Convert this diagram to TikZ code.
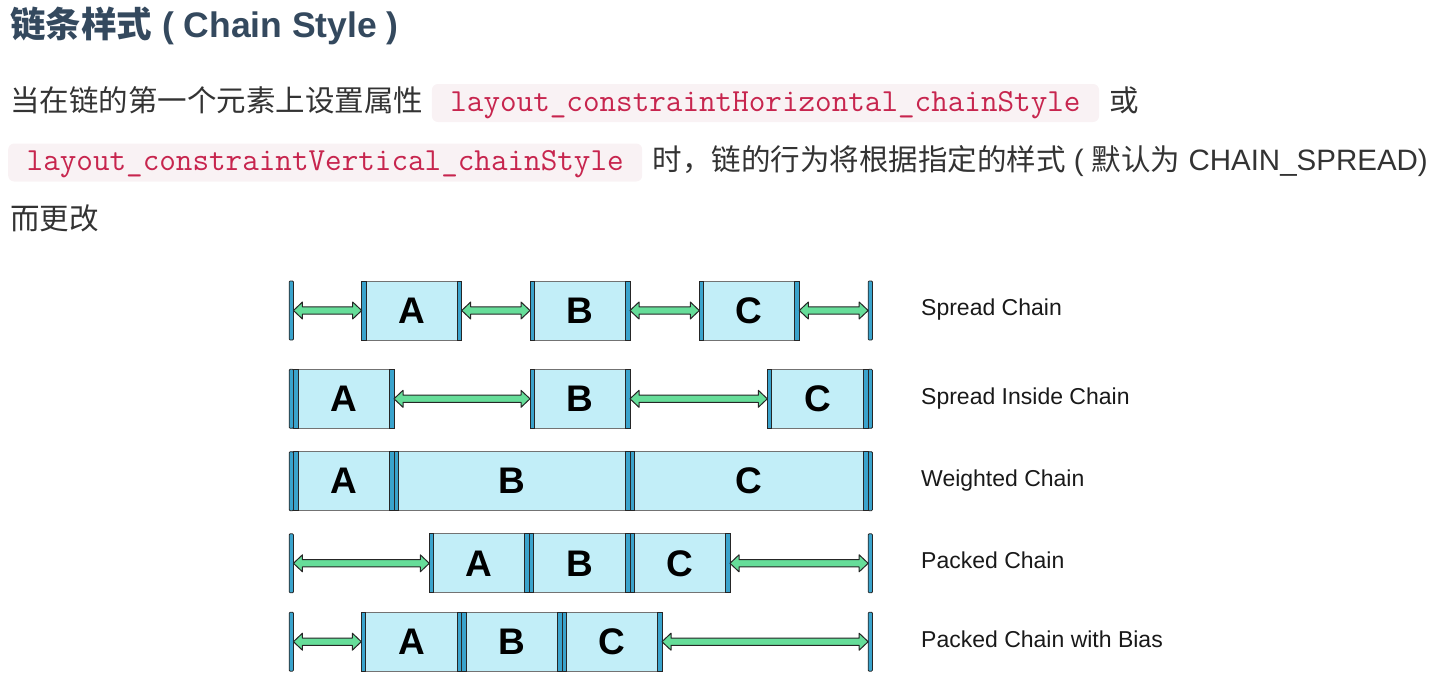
\documentclass[tikz,border=0pt]{standalone}
\usepackage{fontspec}
\setmainfont{Liberation Sans}
\newfontfamily\cjk{Noto Sans CJK SC}
\usetikzlibrary{calc,positioning}

\definecolor{titlecol}{HTML}{34495E}
\definecolor{textcol}{HTML}{333333}
\definecolor{codered}{HTML}{C7254E}
\definecolor{codebg}{HTML}{F9F2F4}
\definecolor{boxfill}{HTML}{C2EEF8}
\definecolor{barfill}{HTML}{3AA3CC}
\definecolor{gapfill}{HTML}{66DD99}

\tikzset{
	box/.style={draw=black!55, line width=0.8pt, fill=boxfill, minimum height=59, inner sep=0, outer sep=0, font=\fontsize{37}{40}\selectfont\bfseries},
	bar/.style={draw=black!85, line width=0.8pt, fill=barfill},
	wall/.style={bar, rounded corners=1pt, minimum width=4.3, minimum height=59, inner sep=0, outer sep=0},
	gap/.style={draw=black!85, line width=1pt, fill=gapfill, line join=round},
	chainlabel/.style={anchor=base west, inner sep=0, font=\fontsize{23}{26}\selectfont, text=black!90},
	code/.style={fill=codebg, text=codered, rounded corners=6pt, inner xsep=18.5, inner ysep=8, text height=19, text depth=3, font=\fontsize{32.2}{34}\ttfamily},
	body/.style={inner sep=0, text=textcol, font=\fontsize{29.5}{34}\selectfont},
}

% box with a bar on each side: (name)(left,right,y){label}
\def\chainbox(#1)(#2,#3,#4)#5{%
	\node[box, minimum width=#3-#2, anchor=west] (#1) at (#2,#4) {#5};
	\draw[bar] (#1.north west) rectangle ([xshift=4.5pt]#1.south west);
	\draw[bar] ([xshift=-4.5pt]#1.north east) rectangle (#1.south east);}
% double arrow between two nodes
\def\gap(#1)(#2){\filldraw[gap] let \p1=(#1.east), \p2=(#2.west) in
	(\x1,\y1) -- (\x1+9pt,\y1+8.5pt) -- (\x1+9pt,\y1+3.6pt) -- (\x2-9pt,\y1+3.6pt) -- (\x2-9pt,\y1+8.5pt) -- (\x2,\y1)
	-- (\x2-9pt,\y1-8.5pt) -- (\x2-9pt,\y1-3.6pt) -- (\x1+9pt,\y1-3.6pt) -- (\x1+9pt,\y1-8.5pt) -- cycle;}

\begin{document}
\begin{tikzpicture}[x=1pt, y=-1pt]
		%%%%% START %%%%%
		\useasboundingbox (0,0) rectangle (1436,694);
		
		\node[body, anchor=base west, text=titlecol, font=\fontsize{35.5}{40}\selectfont\bfseries] (title) at (10,37) {{\cjk 链条样式} ( Chain Style )};
		
		\node[body, anchor=base west] (set) at (10,111) {\cjk 当在链的第一个元素上设置属性};
		\node[code, anchor=base west] (hcode) at (431.7,111) {layout\_constraintHorizontal\_chainStyle};
		\node[body, anchor=base west] (or) at ([xshift=10pt]hcode.base east) {\cjk 或};
		\node[code, anchor=base west] (vcode) at (8,170.5) {layout\_constraintVertical\_chainStyle};
		\node[body, anchor=base west] (when) at ([xshift=10pt]vcode.base east) {{\cjk 时，链的行为将根据指定的样式} ( {\cjk 默认为} CHAIN\_SPREAD)};
		\node[body, anchor=base west] (change) at (10,229) {\cjk 而更改};
		
		% spread
		\node[wall] (s-l) at (291.3,310.5) {};
		\node[wall] (s-r) at (870.3,310.5) {};
		\chainbox(s-a)(361.7,461.7,310.5){A}
		\chainbox(s-b)(530,630,310.5){B}
		\chainbox(s-c)(699.3,799.3,310.5){C}
		\gap(s-l)(s-a)
		\gap(s-a)(s-b)
		\gap(s-b)(s-c)
		\gap(s-c)(s-r)
		\node[chainlabel] (s-t) at (921,315.8) {Spread Chain};
		
		% spread inside
		\node[wall] (i-l) at (291.3,398.8) {};
		\node[wall] (i-r) at (870.3,398.8) {};
		\chainbox(i-a)(293.5,394,398.8){A}
		\chainbox(i-b)(530,630,398.8){B}
		\chainbox(i-c)(767.3,868,398.8){C}
		\gap(i-a)(i-b)
		\gap(i-b)(i-c)
		\node[chainlabel] (i-t) at (921,404.1) {Spread Inside Chain};
		
		% weighted
		\node[wall] (w-l) at (291.3,481.2) {};
		\node[wall] (w-r) at (870.3,481.2) {};
		\chainbox(w-a)(293.5,394,481.2){A}
		\chainbox(w-b)(394,630,481.2){B}
		\chainbox(w-c)(630,868,481.2){C}
		\node[chainlabel] (w-t) at (921,486.5) {Weighted Chain};
		
		% packed
		\node[wall] (p-l) at (291.3,563.3) {};
		\node[wall] (p-r) at (870.3,563.3) {};
		\chainbox(p-a)(429.3,529.3,563.3){A}
		\chainbox(p-b)(529.3,630,563.3){B}
		\chainbox(p-c)(630,730,563.3){C}
		\gap(p-l)(p-a)
		\gap(p-c)(p-r)
		\node[chainlabel] (p-t) at (921,568.6) {Packed Chain};
		
		% packed with bias
		\node[wall] (b-l) at (291.3,641.7) {};
		\node[wall] (b-r) at (870.3,641.7) {};
		\chainbox(b-a)(361.3,461.7,641.7){A}
		\chainbox(b-b)(461.7,562,641.7){B}
		\chainbox(b-c)(562,662,641.7){C}
		\gap(b-l)(b-a)
		\gap(b-c)(b-r)
		\node[chainlabel] (b-t) at (921,647) {Packed Chain with Bias};
		
		%%%%% END %%%%%
\end{tikzpicture}
\end{document}
